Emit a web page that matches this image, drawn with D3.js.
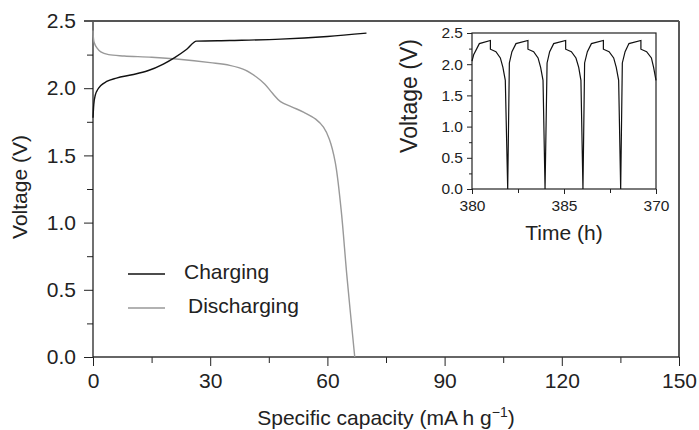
<!DOCTYPE html>
<html>
<head>
<meta charset="utf-8">
<script src="https://cdn.jsdelivr.net/npm/d3@7"></script>
<style>
  body { margin: 0; background: #fff; }
  text { font-family: "Liberation Sans", Arial, sans-serif; fill: #222; }
</style>
</head>
<body>
<script>
//charging curve (specific capacity, voltage)
var chargeCap = [0, 0.2, 0.6, 1.2, 2, 3.5, 6, 10, 14, 18, 21, 24, 26.5, 35, 48, 60, 70];
var chargeV = [1.78, 1.88, 1.95, 1.99, 2.02, 2.05, 2.075, 2.10, 2.13, 2.18, 2.23, 2.29, 2.35, 2.355, 2.365, 2.385, 2.41];

//discharging curve
var dischargeCap = [0, 0.3, 1, 2, 4, 8, 15, 22, 30, 35, 39, 42, 44, 46, 48, 51, 54, 57, 59, 60.5, 62, 63.5, 65, 67];
var dischargeV = [2.43, 2.34, 2.30, 2.27, 2.25, 2.24, 2.23, 2.215, 2.19, 2.17, 2.135, 2.08, 2.03, 1.96, 1.90, 1.86, 1.82, 1.77, 1.71, 1.62, 1.45, 1.1, 0.6, 0.0];

//inset cycling (time, voltage)
var insetTime = [380.00, 380.09, 380.40, 381.00, 381.00, 381.30, 381.54, 381.68, 381.81, 381.94,
                 382.03, 382.17, 382.39, 383.04, 383.04, 383.35, 383.59, 383.73, 383.86, 383.97,
                 384.08, 384.22, 384.44, 385.09, 385.09, 385.40, 385.65, 385.80, 385.92, 386.03,
                 386.12, 386.27, 386.49, 387.14, 387.14, 387.45, 387.70, 387.84, 387.97, 388.08,
                 388.17, 388.32, 388.53, 389.18, 389.18, 389.49, 389.75, 389.87, 390.00];
var insetV = [2.05, 2.15, 2.33, 2.38, 2.24, 2.20, 2.10, 1.95, 1.74, 0.00,
              2.02, 2.20, 2.33, 2.38, 2.24, 2.20, 2.10, 1.95, 1.74, 0.00,
              2.02, 2.20, 2.33, 2.38, 2.24, 2.20, 2.10, 1.95, 1.74, 0.00,
              2.02, 2.20, 2.33, 2.38, 2.24, 2.20, 2.10, 1.95, 1.74, 0.00,
              2.02, 2.20, 2.33, 2.38, 2.24, 2.20, 2.10, 1.95, 1.74];

//ticks
var xTicks = [0, 30, 60, 90, 120, 150];
var xMinor = [15, 45, 75, 105, 135];
var yTicks = [0, 0.5, 1.0, 1.5, 2.0, 2.5];
var yMinor = [0.25, 0.75, 1.25, 1.75, 2.25];
var insetXTicks = [380, 385, 390];
var insetXLabels = ["380", "385", "370"];
var insetXMinor = [382.5, 387.5];
var insetYTicks = [0, 0.5, 1.0, 1.5, 2.0, 2.5];
var insetYMinor = [0.25, 0.75, 1.25, 1.75, 2.25];

var legendNames = ["Charging", "Discharging"];
var legendColors = ["#111", "#999"];

var width = 699;
var height = 430;

var svg = d3.select("body")
            .append("svg")
            .attr("width", width)
            .attr("height", height);

//main scales
var x = d3.scaleLinear().domain([0, 150]).range([93, 679]);
var y = d3.scaleLinear().domain([0, 2.5]).range([357, 21]);

function zip(a, b) {
  return a.map(function(d, i) { return [d, b[i]]; });
}

//axes
function styleAxis(g, fontSize) {
  g.select(".domain").remove();
  g.selectAll("line").attr("stroke", "#222");
  g.selectAll("text").style("font-size", fontSize + "px").attr("fill", "#222");
}

svg.append("g")
   .attr("transform", "translate(0,357)")
   .call(d3.axisBottom(x).tickValues(xTicks).tickSize(9).tickPadding(7).tickFormat(d3.format("d")))
   .call(styleAxis, 21);
svg.append("g")
   .attr("transform", "translate(0,357)")
   .call(d3.axisBottom(x).tickValues(xMinor).tickSize(6).tickFormat(""))
   .call(styleAxis, 21);
svg.append("g")
   .attr("transform", "translate(93,0)")
   .call(d3.axisLeft(y).tickValues(yTicks).tickSize(9).tickPadding(8).tickFormat(d3.format(".1f")))
   .call(styleAxis, 21);
svg.append("g")
   .attr("transform", "translate(93,0)")
   .call(d3.axisLeft(y).tickValues(yMinor).tickSize(6).tickFormat(""))
   .call(styleAxis, 21);

//frame
svg.append("line").attr("x1", 93).attr("x2", 679).attr("y1", 357).attr("y2", 357)
   .attr("stroke", "#333").attr("stroke-width", 1.5);
svg.append("line").attr("x1", 93).attr("x2", 93).attr("y1", 21).attr("y2", 357)
   .attr("stroke", "#111").attr("stroke-width", 1.2);
svg.append("line").attr("x1", 679).attr("x2", 679).attr("y1", 21).attr("y2", 357)
   .attr("stroke", "#222").attr("stroke-width", 1.5);
svg.append("line").attr("x1", 84).attr("x2", 679).attr("y1", 21).attr("y2", 21)
   .attr("stroke", "#555").attr("stroke-width", 2.2);

//curves
var line = d3.line()
             .x(function(d) { return x(d[0]); })
             .y(function(d) { return y(d[1]); });

svg.append("path")
   .datum(zip(dischargeCap, dischargeV))
   .attr("d", line.curve(d3.curveCatmullRom.alpha(0.5)))
   .attr("fill", "none")
   .attr("stroke", legendColors[1])
   .attr("stroke-width", 1.4);
svg.append("path")
   .datum(zip(chargeCap, chargeV))
   .attr("d", line.curve(d3.curveMonotoneX))
   .attr("fill", "none")
   .attr("stroke", legendColors[0])
   .attr("stroke-width", 1.4);

//legend
var legend = svg.selectAll(".legend")
                .data(legendNames)
                .enter().append("g")
                .attr("class", "legend")
                .attr("transform", function(d, i) { return "translate(0," + (274 + i * 34) + ")"; });
legend.append("line")
      .attr("x1", 128).attr("x2", 165)
      .attr("stroke", function(d, i) { return legendColors[i]; })
      .attr("stroke-width", 1.4);
legend.append("text")
      .attr("x", function(d, i) { return i == 0 ? 184 : 188; })
      .attr("y", -2)
      .attr("dy", "0.35em")
      .style("font-size", "21px")
      .text(function(d) { return d; });

//axis titles
svg.append("text")
   .attr("x", 386).attr("y", 425)
   .attr("text-anchor", "middle")
   .style("font-size", "21px")
   .html("Specific capacity (mA h g<tspan dy='-8' font-size='14px'>\u22121</tspan><tspan dy='8'>)</tspan>");
svg.append("text")
   .attr("transform", "translate(27,187) rotate(-90)")
   .attr("text-anchor", "middle")
   .style("font-size", "21px")
   .text("Voltage (V)");

//inset
var ix = d3.scaleLinear().domain([380, 390]).range([472, 656]);
var iy = d3.scaleLinear().domain([0, 2.5]).range([189, 33]);

svg.append("g")
   .attr("transform", "translate(0,189)")
   .call(d3.axisBottom(ix).tickValues(insetXTicks).tickSize(5).tickPadding(6)
           .tickFormat(function(d, i) { return insetXLabels[i]; }))
   .call(styleAxis, 15.5);
svg.append("g")
   .attr("transform", "translate(0,189)")
   .call(d3.axisBottom(ix).tickValues(insetXMinor).tickSize(4).tickFormat(""))
   .call(styleAxis, 15.5);
svg.append("g")
   .attr("transform", "translate(472,0)")
   .call(d3.axisLeft(iy).tickValues(insetYTicks).tickSize(5).tickPadding(4).tickFormat(d3.format(".1f")))
   .call(styleAxis, 15.5);
svg.append("g")
   .attr("transform", "translate(472,0)")
   .call(d3.axisLeft(iy).tickValues(insetYMinor).tickSize(3).tickFormat(""))
   .call(styleAxis, 15.5);

svg.append("rect")
   .attr("x", 472).attr("y", 33)
   .attr("width", 184).attr("height", 156)
   .attr("fill", "none")
   .attr("stroke", "#222")
   .attr("stroke-width", 1.2);

var insetLine = d3.line()
                  .x(function(d) { return ix(d[0]); })
                  .y(function(d) { return iy(d[1]); });

svg.append("path")
   .datum(zip(insetTime, insetV))
   .attr("d", insetLine)
   .attr("fill", "none")
   .attr("stroke", "#111")
   .attr("stroke-width", 1.2);

svg.append("text")
   .attr("x", 564).attr("y", 240)
   .attr("text-anchor", "middle")
   .style("font-size", "21px")
   .text("Time (h)");
svg.append("text")
   .attr("transform", "translate(417,96) rotate(-90)")
   .attr("text-anchor", "middle")
   .style("font-size", "23px")
   .text("Voltage (V)");
</script>
</body>
</html>
